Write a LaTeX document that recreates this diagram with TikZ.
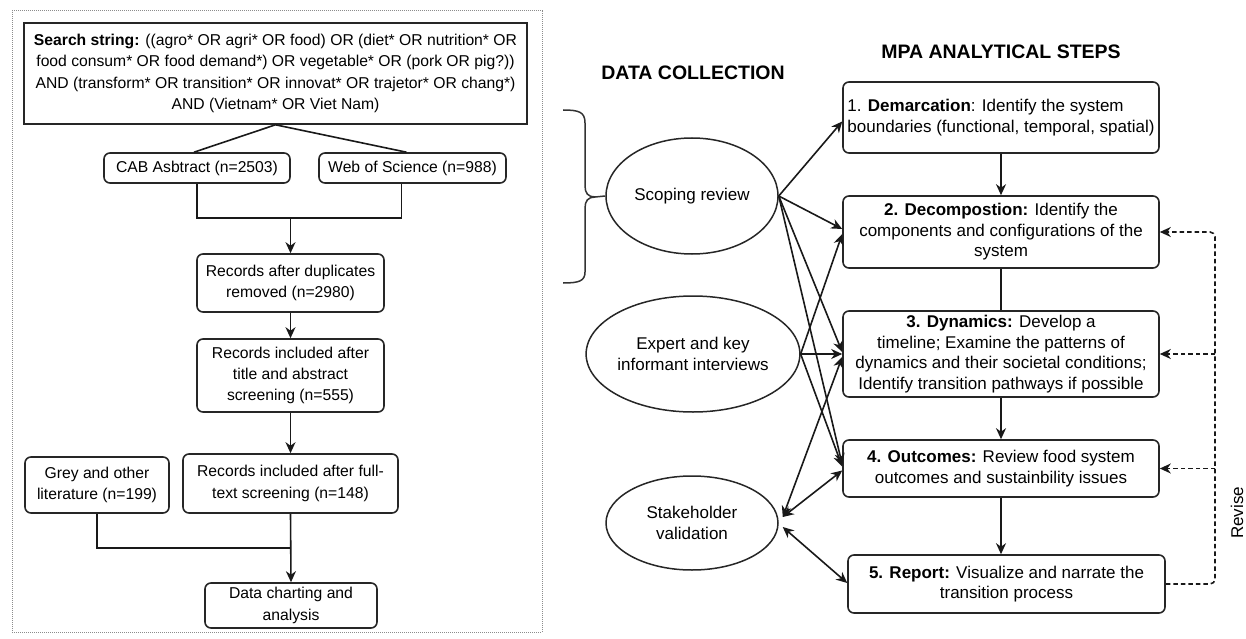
\documentclass[tikz,border=0pt]{standalone}
\usepackage{fontspec}
\setmainfont{Liberation Sans}
\usetikzlibrary{arrows.meta,calc,shapes.geometric}

\tikzset{
  lfont/.style={font=\fontsize{15.7}{21.3}\selectfont},
  rfont/.style={font=\fontsize{17}{20.6}\selectfont},
  headfont/.style={font=\fontsize{19.5}{24}\selectfont\bfseries},
  box/.style={draw=black!85, line width=1.6pt, rounded corners=6pt, inner sep=0pt, align=center},
  oval/.style={draw=black!85, ellipse, line width=1.5pt, inner sep=0pt, align=center},
  link/.style={line width=1.6pt, draw=black!90},
  tip/.tip={Stealth[length=11pt,width=10pt,inset=3.5pt]},
  arr/.style={link, -tip},
  darr/.style={link, tip-tip},
  revise/.style={link, dash pattern=on 4.5pt off 3pt, rounded corners=5pt},
  panel/.style={draw=black!45, line width=1pt, dash pattern=on 1pt off 1pt, inner sep=0pt},
}

\begin{document}
\begin{tikzpicture}[x=1pt, y=-1pt]
\useasboundingbox (0,0) rectangle (1246,639);

% ---------------- literature search flow ----------------
\node[panel, minimum width=530pt, minimum height=621pt] (frame) at (277,321.5) {};

\node[box, lfont, rounded corners=0pt, minimum width=503pt, minimum height=101pt] (search) at (275.5,73.5)
  {\textbf{Search string:} ((agro* OR agri* OR food) OR (diet* OR nutrition* OR\\
   food consum* OR food demand*) OR vegetable* OR (pork OR pig?))\\
   AND (transform* OR transition* OR innovat* OR trajetor* OR chang*)\\
   AND (Vietnam* OR Viet Nam)};

\node[box, lfont, minimum width=186pt, minimum height=30pt] (cab) at (197,168) {CAB Asbtract (n=2503)};
\node[box, lfont, minimum width=187pt, minimum height=30pt] (wos) at (412.5,168) {Web of Science (n=988)};

\node[box, lfont, minimum width=187pt, minimum height=58pt] (dup) at (290.5,283)
  {Records after duplicates\\ removed (n=2980)};
\node[box, lfont, minimum width=187pt, minimum height=73pt] (title) at (290.5,375.5)
  {Records included after\\ title and abstract\\ screening (n=555)};
\node[box, lfont, minimum width=215pt, minimum height=59pt] (full) at (290.5,483.5)
  {Records included after full-\\ text screening (n=148)};
\node[box, lfont, minimum width=144pt, minimum height=56pt] (grey) at (97,485)
  {Grey and other\\ literature (n=199)};
\node[box, lfont, minimum width=172pt, minimum height=45pt] (data) at (291,605.5)
  {Data charting and\\ analysis};

\coordinate (j1) at (290.5,218);
\coordinate (j2) at (290.5,548);

\draw[link] ($(cab.north)+(-3,0)$) -- (search.south) -- ($(wos.north)+(-6,0)$);
\draw[link] (cab.south) |- (j1);
\draw[link] ($(wos.south)+(-11,0)$) |- (j1);
\draw[arr] (j1) -- (dup.north);
\draw[arr] (dup.south) -- (title.north);
\draw[arr] (title.south) -- (full.north);
\draw[link] (grey.south) |- (j2);
\draw[arr] (full.south) -- (data.north);

% ---------------- data collection ----------------
\node[headfont] (dchead) at (693,73) {DATA COLLECTION};

\node[oval, rfont, minimum width=172pt, minimum height=116pt] (sc) at (692,196) {Scoping review};
\node[oval, rfont, minimum width=174pt, minimum height=116pt] (ex) at (693,354)
  {Expert and key\\ informant interviews};
\node[oval, rfont, minimum width=172pt, minimum height=94pt] (st) at (692,523)
  {Stakeholder\\ validation};

% brace gathering the search flow into the scoping review
\draw[link, line width=1.5pt, draw=black!80]
  (563,110) .. controls (579,110) and (585,112) .. (585,123) -- (585,186)
  .. controls (585,193) and (588,197) .. (595,197) -- (sc.west);
\draw[link, line width=1.5pt, draw=black!80]
  (595,197) .. controls (588,197) and (585,201) .. (585,208) -- (585,272)
  .. controls (585,281) and (579,283) .. (563,283);

% ---------------- analytical steps ----------------
\node[headfont] (mpahead) at (1001,52) {MPA ANALYTICAL STEPS};

\node[box, rfont, align=left, minimum width=316pt, minimum height=71pt] (b1) at (1001,117.5)
  {1. \textbf{Demarcation}: Identify the system\\ boundaries (functional, temporal, spatial)};
\node[box, rfont, minimum width=316pt, minimum height=72pt] (b2) at (1001,232)
  {\textbf{2. Decompostion:} Identify the\\ components and configurations of the\\ system};
\node[box, rfont, minimum width=316pt, minimum height=86pt] (b3) at (1001,354)
  {\textbf{3. Dynamics:} Develop a\\ timeline; Examine the patterns of\\
   dynamics and their societal conditions;\\ Identify transition pathways if possible};
\node[box, rfont, minimum width=316pt, minimum height=57pt] (b4) at (1001,468.5)
  {\textbf{4. Outcomes:} Review food system\\ outcomes and sustainbility issues};
\node[box, rfont, minimum width=317pt, minimum height=58pt] (b5) at (1006.5,584)
  {\textbf{5. Report:} Visualize and narrate the\\ transition process};

\draw[arr] (b1.south) -- (b2.north);
\draw[link] (b2.south) -- (b3.north);
\draw[arr] (b3.south) -- (b4.north);
\draw[arr] (b4.south) -- (b4.south |- b5.north);

% sources feeding the steps
\draw[arr] (sc.east) -- ($(b1.west)+(0,4)$);
\draw[arr] (sc.east) -- ($(b2.west)+(0,-3)$);
\draw[arr] (sc.east) -- ($(b3.west)+(0,-2)$);
\draw[arr] (sc.east) -- ($(b4.west)+(0,-4)$);
\draw[arr] (ex.east) -- ($(b2.west)+(0,2)$);
\draw[arr] (ex.east) -- (b3.west);
\draw[arr] (ex.east) -- ($(b4.west)+(0,-2)$);
\draw[darr] ($(st.east)+(4,-6)$) -- ($(b3.west)+(0,3)$);
\draw[darr] ($(st.east)+(4,-6)$) -- ($(b4.west)+(0,2)$);
\draw[darr] ($(st.east)+(4,4)$) -- ($(b5.west)+(0,-1)$);

% revision loop
\coordinate (rvtop) at (1215,232);
\coordinate (rv3) at (1215,354);
\coordinate (rv4) at (1215,468.5);
\draw[revise, -tip] (b5.east) -| (rvtop) -- (b2.east);
\draw[revise, -tip] (rv3) -- (b3.east);
\draw[revise, -tip] (rv4) -- (b4.east);
\node[rfont, rotate=90] (revlabel) at (1237,513) {Revise};

\end{tikzpicture}
\end{document}
